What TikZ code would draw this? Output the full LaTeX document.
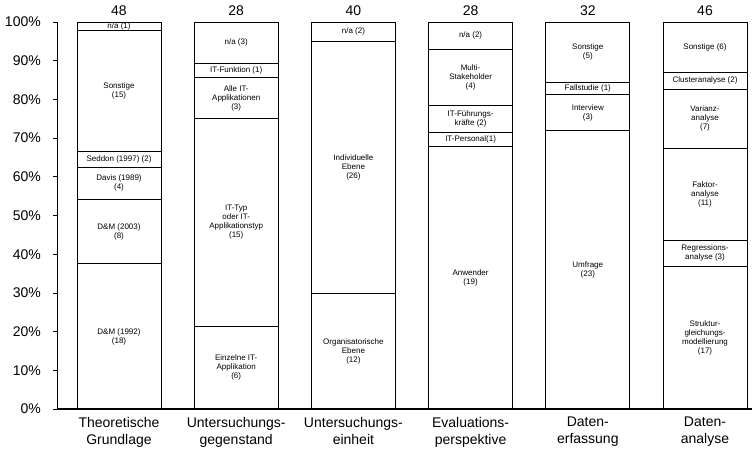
\documentclass[tikz,border=0pt]{standalone}
\usepackage{fontspec}
\setmainfont{Liberation Sans}
\usetikzlibrary{positioning, math}

\tikzset{
  seg/.style={draw, line width=0.8pt, minimum width=84pt, inner sep=0pt, outer sep=0pt,
    align=center, font=\fontsize{8}{9}\selectfont},
  total/.style={inner sep=0pt, font=\fontsize{14}{15}\selectfont},
  cat/.style={anchor=north, inner sep=0pt, align=center, font=\fontsize{14}{17}\selectfont},
  pct/.style={anchor=east, inner sep=0pt, font=\fontsize{14}{15}\selectfont},
}

\begin{document}
\begin{tikzpicture}[x=1pt,y=1pt]
\tikzmath{
\H=387;
\u=3.87;
}
\useasboundingbox (0,0) rectangle (752,451);

% axes
\coordinate (o) at (57,42);
\coordinate (top) at (57,429);
\coordinate (end) at (752,42);
\draw [line width=0.8] (o) -- (top);
\draw [line width=1.6] (o) -- (end);
\foreach \p in {0,10,...,100}{
  \draw [line width=0.8] (53,42+\p*\u) -- (57,42+\p*\u);
  \node[pct] (p\p) at (41,42+\p*\u) {\p\%};
}

% Theoretische Grundlage
\node[seg, anchor=south west, minimum height={18/48*\H}] (a1) at (77,42) {D\&M (1992)\\(18)};
\node[seg, above=0pt of a1, minimum height={8/48*\H}] (a2) {D\&M (2003)\\(8)};
\node[seg, above=0pt of a2, minimum height={4/48*\H}] (a3) {Davis (1989)\\(4)};
\node[seg, above=0pt of a3, minimum height={2/48*\H}] (a4) {Seddon (1997) (2)};
\node[seg, above=0pt of a4, minimum height={15/48*\H}] (a5) {Sonstige\\(15)};
\node[seg, above=0pt of a5, minimum height={1/48*\H}] (a6) {n/a (1)};
\node[total, above=6pt of a6] (ta) {48};
\node[cat] (ca) at (a1.south |- 0,34) {Theoretische\\Grundlage};

% Untersuchungsgegenstand
\node[seg, anchor=south west, minimum height={6/28*\H}] (b1) at (194.2,42) {Einzelne IT-\\Applikation\\(6)};
\node[seg, above=0pt of b1, minimum height={15/28*\H}] (b2) {IT-Typ\\oder IT-\\Applikationstyp\\(15)};
\node[seg, above=0pt of b2, minimum height={3/28*\H}] (b3) {Alle IT-\\Applikationen\\(3)};
\node[seg, above=0pt of b3, minimum height={1/28*\H}] (b4) {IT-Funktion (1)};
\node[seg, above=0pt of b4, minimum height={3/28*\H}] (b5) {n/a (3)};
\node[total, above=6pt of b5] (tb) {28};
\node[cat] (cb) at (b1.south |- 0,34) {Untersuchungs-\\gegenstand};

% Untersuchungseinheit
\node[seg, anchor=south west, minimum height={12/40*\H}] (c1) at (311.4,42) {Organisatorische\\Ebene\\(12)};
\node[seg, above=0pt of c1, minimum height={26/40*\H}] (c2) {Individuelle\\Ebene\\(26)};
\node[seg, above=0pt of c2, minimum height={2/40*\H}] (c3) {n/a (2)};
\node[total, above=6pt of c3] (tc) {40};
\node[cat] (cc) at (c1.south |- 0,34) {Untersuchungs-\\einheit};

% Evaluationsperspektive
\node[seg, anchor=south west, minimum height={19/28*\H}] (d1) at (428.6,42) {Anwender\\(19)};
\node[seg, above=0pt of d1, minimum height={1/28*\H}] (d2) {IT-Personal(1)};
\node[seg, above=0pt of d2, minimum height={2/28*\H}] (d3) {IT-Führungs-\\kräfte (2)};
\node[seg, above=0pt of d3, minimum height={4/28*\H}] (d4) {Multi-\\Stakeholder\\(4)};
\node[seg, above=0pt of d4, minimum height={2/28*\H}] (d5) {n/a (2)};
\node[total, above=6pt of d5] (td) {28};
\node[cat] (cd) at (d1.south |- 0,34) {Evaluations-\\perspektive};

% Datenerfassung
\node[seg, anchor=south west, minimum height={23/32*\H}] (e1) at (545.8,42) {Umfrage\\(23)};
\node[seg, above=0pt of e1, minimum height={3/32*\H}] (e2) {Interview\\(3)};
\node[seg, above=0pt of e2, minimum height={1/32*\H}] (e3) {Fallstudie (1)};
\node[seg, above=0pt of e3, minimum height={5/32*\H}] (e4) {Sonstige\\(5)};
\node[total, above=6pt of e4] (te) {32};
\node[cat] (ce) at (e1.south |- 0,34) {Daten-\\erfassung};

% Datenanalyse
\node[seg, anchor=south west, minimum height={17/46*\H}] (f1) at (663,42) {Struktur-\\gleichungs-\\modellierung\\(17)};
\node[seg, above=0pt of f1, minimum height={3/46*\H}] (f2) {Regressions-\\analyse (3)};
\node[seg, above=0pt of f2, minimum height={11/46*\H}] (f3) {Faktor-\\analyse\\(11)};
\node[seg, above=0pt of f3, minimum height={7/46*\H}] (f4) {Varianz-\\analyse\\(7)};
\node[seg, above=0pt of f4, minimum height={2/46*\H}] (f5) {Clusteranalyse (2)};
\node[seg, above=0pt of f5, minimum height={6/46*\H}] (f6) {Sonstige (6)};
\node[total, above=6pt of f6] (tf) {46};
\node[cat] (cf) at (f1.south |- 0,34) {Daten-\\analyse};
\end{tikzpicture}
\end{document}
